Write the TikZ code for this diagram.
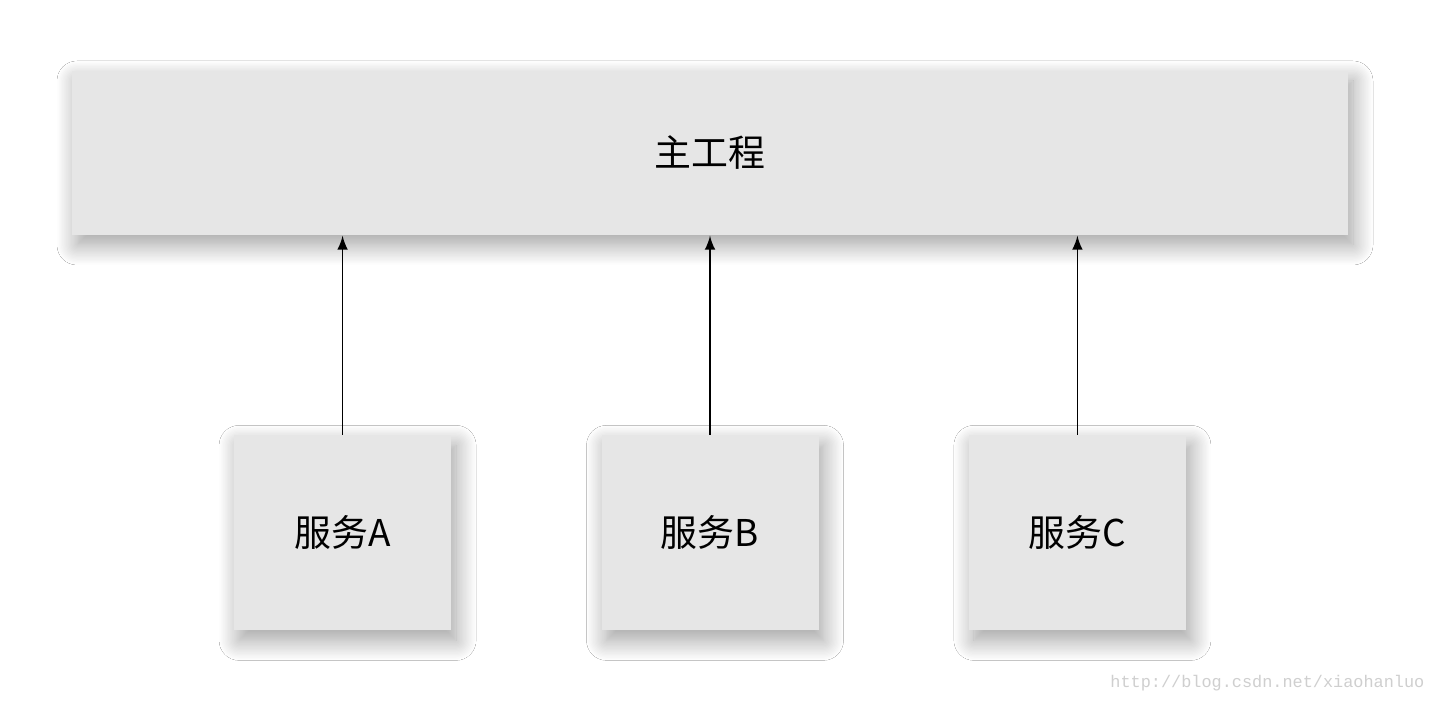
\documentclass[tikz,border=0pt]{standalone}
\usepackage{fontspec}
\setmainfont{Noto Sans CJK SC}
\newfontfamily\urlfont{Liberation Mono}
\usetikzlibrary{arrows, positioning, shadows.blur}
\definecolor{boxgray}{HTML}{E6E6E6}
\definecolor{markgray}{HTML}{CFCFCF}

\begin{document}
\begin{tikzpicture}[node distance=1.49cm, auto,
    softshadow/.style={blur shadow={shadow xshift=0.05cm, shadow yshift=-0.1cm,
        shadow blur radius=0.2cm, shadow blur steps=16, shadow opacity=38}},
    project/.style={rectangle, fill=boxgray, minimum width=12.76cm, minimum height=1.64cm,
        font=\fontsize{10.5}{12}\selectfont, softshadow},
    service/.style={rectangle, fill=boxgray, minimum width=2.17cm, minimum height=1.95cm,
        font=\fontsize{10.5}{12}\selectfont, softshadow},
    arrow/.style={->, >=latex, line width=0.4pt}]

    \useasboundingbox[fill=white] (0,0) rectangle (14.37,7.02);

    \node[project] (main) at (7.10,5.49) {主工程};
    \node[service, below=1.99cm of main] (sb) {服务B};
    \node[service, left=of sb] (sa) {服务A};
    \node[service, right=of sb] (sc) {服务C};

    \draw[arrow] (sa) -- (sa |- main.south);
    \draw[arrow] (sb) -- (sb |- main.south);
    \draw[arrow] (sc) -- (sc |- main.south);

    \node[text=markgray, anchor=east, inner sep=0pt, font=\urlfont\fontsize{4.8}{6}\selectfont] (mark) at (14.25,0.19) {http://blog.csdn.net/xiaohanluo};
\end{tikzpicture}
\end{document}
